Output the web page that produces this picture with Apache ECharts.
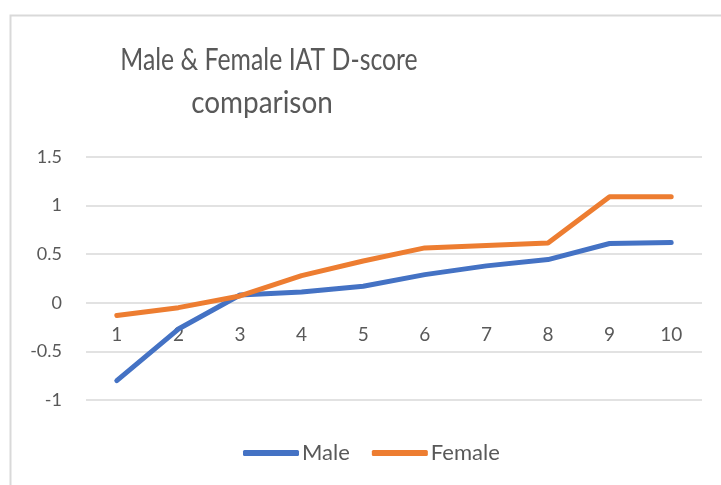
<!DOCTYPE html>
<html>
<head>
<meta charset="utf-8">
<script src="https://cdn.jsdelivr.net/npm/echarts@6/dist/echarts.min.js"></script>
<style>
html,body{margin:0;padding:0;background:#fff;}
#c{width:721px;height:485px;}
</style>
</head>
<body>
<div id="c"></div>
<script>
var categories = ['1','2','3','4','5','6','7','8','9','10'];
var maleValues = [-0.80, -0.27, 0.08, 0.11, 0.17, 0.29, 0.38, 0.445, 0.61, 0.62];
var femaleValues = [-0.13, -0.05, 0.07, 0.28, 0.43, 0.565, 0.59, 0.615, 1.09, 1.09];
var titleLines = ['Male & Female IAT D-score', 'comparison'];

var FONT = 'Lato, "Open Sans", sans-serif';
var chart = echarts.init(document.getElementById('c'));
chart.setOption({
  backgroundColor: '#fff',
  animation: false,
  graphic: [{
    type: 'rect', left: 8, top: 13,
    shape: {width: 740, height: 500},
    style: {fill: 'none', stroke: '#d9d9d9', lineWidth: 2},
    silent: true
  }, {
    type: 'text', x: 269, y: 60, scaleX: 0.8, silent: true,
    style: {text: titleLines[0], align: 'center', verticalAlign: 'middle',
      font: 'normal 31px Lato, sans-serif', fill: '#595959'}
  }, {
    type: 'text', x: 262, y: 103, scaleX: 0.9, silent: true,
    style: {text: titleLines[1], align: 'center', verticalAlign: 'middle',
      font: 'normal 31px Lato, sans-serif', fill: '#595959'}
  }],
  legend: {
    bottom: 16,
    left: 238,
    itemWidth: 56,
    itemHeight: 6,
    itemGap: 22,
    icon: 'roundRect',
    textStyle: {fontFamily: FONT, fontSize: 22, color: '#595959', padding: [0,0,0,-2]},
    data: ['Male', 'Female']
  },
  grid: {left: 86, right: 19, top: 157, bottom: 85, containLabel: false},
  xAxis: {
    type: 'category',
    data: categories,
    boundaryGap: true,
    axisLine: {onZero: false, show: false},
    axisTick: {show: false},
    axisLabel: {fontFamily: FONT, fontSize: 19, color: '#595959', margin: -75}
  },
  yAxis: {
    type: 'value',
    min: -1, max: 1.5, interval: 0.5,
    axisLine: {show: false},
    axisTick: {show: false},
    splitLine: {lineStyle: {color: '#d9d9d9', width: 1.5}},
    axisLabel: {fontFamily: FONT, fontSize: 18, color: '#595959', margin: 24}
  },
  series: [{
    name: 'Male', type: 'line', data: maleValues,
    showSymbol: false, symbol: 'none',
    lineStyle: {color: '#4472C4', width: 5, cap: 'round', join: 'round'},
    itemStyle: {color: '#4472C4'}
  }, {
    name: 'Female', type: 'line', data: femaleValues,
    showSymbol: false, symbol: 'none',
    lineStyle: {color: '#ED7D31', width: 5, cap: 'round', join: 'round'},
    itemStyle: {color: '#ED7D31'}
  }]
});
</script>
</body>
</html>
